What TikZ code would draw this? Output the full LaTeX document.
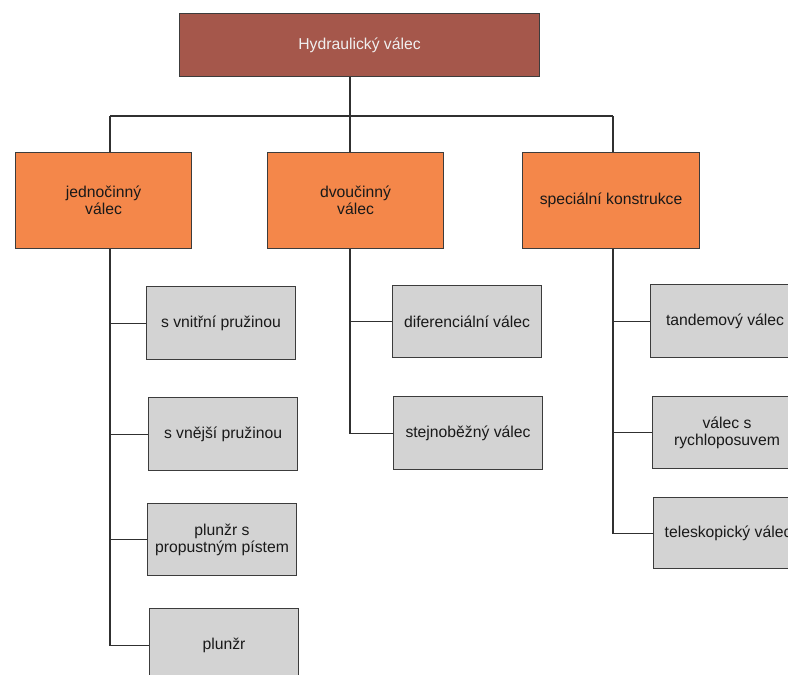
\documentclass[tikz,border=0pt]{standalone}
\usepackage{fontspec}
\setmainfont{Liberation Sans}
\definecolor{topfill}{HTML}{A5574B}
\definecolor{orfill}{HTML}{F4874A}
\definecolor{grfill}{HTML}{D3D3D3}
\definecolor{boxline}{HTML}{3C3C3C}
\definecolor{conline}{HTML}{303030}
\tikzset{
  basebox/.style={draw=boxline, line width=0.8pt, inner sep=0pt, align=center,
    anchor=north west, font=\fontsize{11.8}{12.8}\selectfont},
  topbox/.style={basebox, fill=topfill, text=white!94!black, minimum width=270pt, minimum height=47.25pt},
  catbox/.style={basebox, fill=orfill, text=black!90, minimum width=132pt, minimum height=72pt},
  leafbox/.style={basebox, fill=grfill, text=black!90, minimum width=111.75pt, minimum height=54.75pt},
  conn/.style={draw=conline, line width=0.8pt}
}
\begin{document}
\begin{tikzpicture}[x=0.75pt,y=-0.75pt]
\useasboundingbox (0,0) rectangle (788,674);
\clip (0,0) rectangle (788,674);
% nodes
\node[topbox] (top) at (179,13) {Hydraulický válec};
\node[catbox] (jed) at (15,152) {jednočinný\\válec};
\node[catbox] (dvo) at (267,152) {dvoučinný\\válec};
\node[catbox, minimum width=132.75pt] (spe) at (522,152) {speciální konstrukce};
\node[leafbox] (c1) at (146,286) {s vnitřní pružinou};
\node[leafbox] (c2) at (148,397) {s vnější pružinou};
\node[leafbox, minimum height=54pt] (c3) at (147,503) {plunžr s\\propustným pístem};
\node[leafbox] (c4) at (149,608) {plunžr};
\node[leafbox, minimum height=54pt] (d1) at (392,285) {diferenciální válec};
\node[leafbox] (d2) at (393,396) {stejnoběžný válec};
\node[leafbox] (r1) at (650,284) {tandemový válec};
\node[leafbox, minimum height=54pt] (r2) at (652,396) {válec s\\rychloposuvem};
\node[leafbox, minimum height=53.25pt] (r3) at (653,497) {teleskopický válec};
% bus coordinates
\coordinate (sL) at (110,116);
\coordinate (sM) at (350,116);
\coordinate (sR) at (613,116);
% connectors
\draw[conn] (top.south -| sM) -- (sM);
\draw[conn] (sL) -- (sR);
\draw[conn] (sL) -- (jed.north -| sL);
\draw[conn] (sM) -- (dvo.north -| sM);
\draw[conn] (sR) -- (spe.north -| sR);
\draw[conn] (jed.south -| sL) |- (c1.west);
\draw[conn] (jed.south -| sL) |- (c2.west);
\draw[conn] (jed.south -| sL) |- (c3.west);
\draw[conn] (jed.south -| sL) |- (c4.west);
\draw[conn] (dvo.south -| sM) |- (d1.west);
\draw[conn] (dvo.south -| sM) |- (d2.west);
\draw[conn] (spe.south -| sR) |- (r1.west);
\draw[conn] (spe.south -| sR) |- (r2.west);
\draw[conn] (spe.south -| sR) |- (r3.west);
\end{tikzpicture}
\end{document}
